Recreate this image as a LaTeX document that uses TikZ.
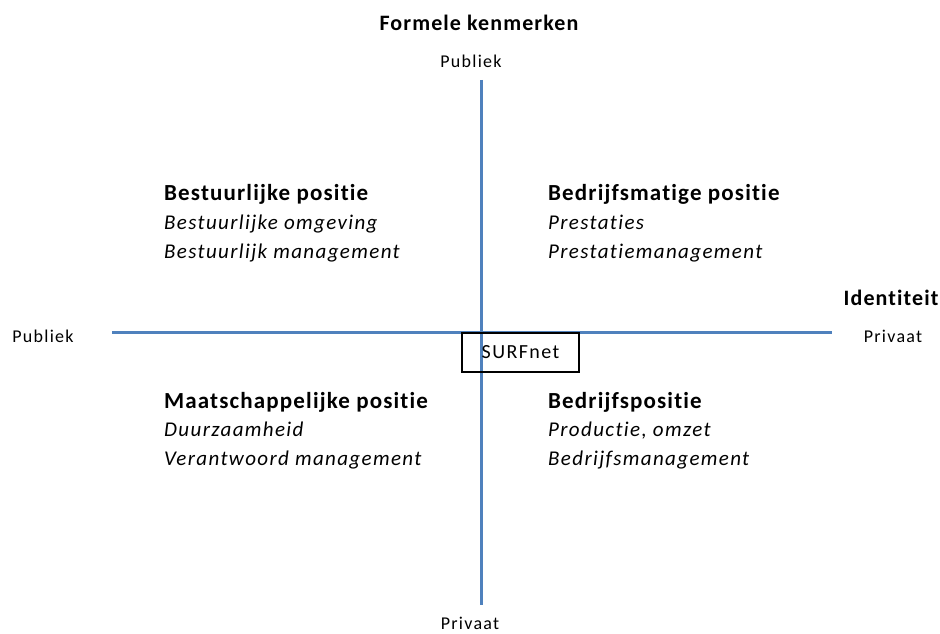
\documentclass[tikz,border=0pt]{standalone}
\usepackage{fontspec}
\setmainfont{Carlito}[Ligatures=CommonOff]
\definecolor{asblauw}{RGB}{79,129,189}
\begin{document}
\begin{tikzpicture}[x=1pt,y=-1pt,
        as/.style={draw=asblauw,line width=3pt},
        kop/.style={anchor=base,inner sep=0pt,font=\fontsize{22}{26}\selectfont\bfseries\addfontfeatures{LetterSpace=5}},
        pool/.style={anchor=base,inner sep=0pt,font=\fontsize{18}{22}\selectfont\addfontfeatures{LetterSpace=7}},
        titel/.style={anchor=base west,inner sep=0pt,font=\fontsize{23}{27}\selectfont\bfseries\addfontfeatures{LetterSpace=5}},
        item/.style={anchor=base west,inner sep=0pt,font=\fontsize{21}{25}\selectfont\itshape\addfontfeatures{LetterSpace=6.5}}]
        \useasboundingbox (0,0) rectangle (940,634);
        \node[kop]  (formeel) at (479,31)  {Formele kenmerken};
        \node[pool] (pubboven) at (471,67) {Publiek};
        \node[kop]  (ident) at (891,305)   {Identiteit};
        \node[pool] (privrechts) at (893,342) {Privaat};
        \node[pool] (publinks) at (43,342) {Publiek};
        \node[pool] (privonder) at (470,629) {Privaat};
        \coordinate (boven) at (481,80);
        \coordinate (onder) at (481,605);
        \coordinate (links) at (112,332);
        \coordinate (rechts) at (832,332);
        \draw[as] (links) -- (rechts);
        \draw[as] (boven) -- (onder);
        \node[draw,line width=1.5pt,minimum width=117pt,minimum height=39pt,inner sep=0pt,
              font=\fontsize{20}{24}\selectfont\addfontfeatures{LetterSpace=7}] (surf) at (520.5,352.5) {SURFnet};
        \node[titel] (bestuur) at (164,200) {Bestuurlijke positie};
        \node[item]  (bestuur1) at (164,229) {Bestuurlijke omgeving};
        \node[item]  (bestuur2) at (164,258) {Bestuurlijk management};
        \node[titel] (bedrmatig) at (548,200) {Bedrijfsmatige positie};
        \node[item]  (bedrmatig1) at (548,229) {Prestaties};
        \node[item]  (bedrmatig2) at (548,258) {Prestatiemanagement};
        \node[titel] (maatsch) at (164,408) {Maatschappelijke positie};
        \node[item]  (maatsch1) at (164,436) {Duurzaamheid};
        \node[item]  (maatsch2) at (164,465) {Verantwoord management};
        \node[titel] (bedr) at (548,408) {Bedrijfspositie};
        \node[item]  (bedr1) at (548,436) {Productie, omzet};
        \node[item]  (bedr2) at (548,465) {Bedrijfsmanagement};
    \end{tikzpicture}
\end{document}
